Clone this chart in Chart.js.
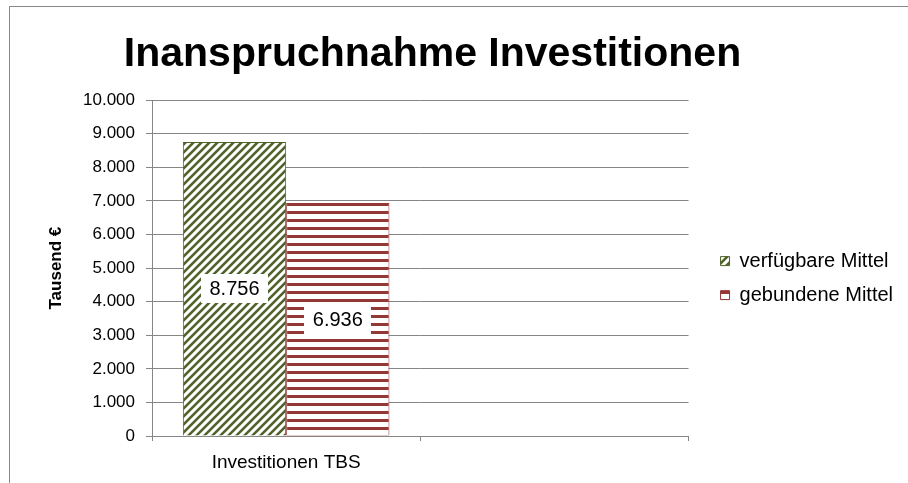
<!DOCTYPE html>
<html>
<head>
<meta charset="utf-8">
<script src="https://cdn.jsdelivr.net/npm/chart.js@4.4.0/dist/chart.umd.min.js"></script>
<style>
  html, body { margin: 0; padding: 0; background: #fff; overflow: hidden; }
  #wrap { position: relative; width: 908px; height: 483px; overflow: hidden; }
  #frame { position: absolute; left: 9px; top: 6px; width: 1000px; height: 1000px; border: 1px solid #8a8a8a; }
  #chart { position: absolute; left: 0; top: 0; }
</style>
</head>
<body>
<div id="wrap">
  <div id="frame"></div>
  <canvas id="chart" width="908" height="483"></canvas>
</div>
<script>
// data
const chartTitle = 'Inanspruchnahme Investitionen';
const axisTitle = 'Tausend €';
const categories = ['Investitionen TBS', ''];
const seriesNames = ['verfügbare Mittel', 'gebundene Mittel'];
const availableValues = [8756, null];
const boundValues = [6936, null];
const yTickValues = [0, 1000, 2000, 3000, 4000, 5000, 6000, 7000, 8000, 9000, 10000];

const FONT = '"Liberation Sans", Arial, sans-serif';
const green = '#4f6228';
const red = '#953735';
const gridGrey = '#868686';

// German thousands separator
function fmt(v) {
  return String(v).replace(/\B(?=(\d{3})+(?!\d))/g, '.');
}

// hatch fills like the excel patterns
function hatch(kind, color, shiftY) {
  const c = document.createElement('canvas');
  c.width = 8; c.height = 8;
  const g = c.getContext('2d');
  g.fillStyle = '#fff';
  g.fillRect(0, 0, 8, 8);
  if (kind === 'diag') {
    g.strokeStyle = color;
    g.lineWidth = 2.6;
    g.beginPath();
    g.moveTo(-2, 10); g.lineTo(10, -2);
    g.moveTo(-6, 6); g.lineTo(6, -6);
    g.moveTo(2, 14); g.lineTo(14, 2);
    g.stroke();
  } else {
    g.fillStyle = color;
    g.fillRect(0, 0, 8, 3);
  }
  const p = g.createPattern(c, 'repeat');
  if (shiftY && p.setTransform) p.setTransform(new DOMMatrix().translate(0, shiftY));
  return p;
}

// white boxes with the values in the middle of the bars
const valueBoxes = {
  id: 'valueBoxes',
  afterDatasetsDraw(chart) {
    const ctx = chart.ctx;
    ctx.save();
    ctx.font = '20px ' + FONT;
    ctx.textAlign = 'center';
    ctx.textBaseline = 'middle';
    chart.data.datasets.forEach((ds, i) => {
      chart.getDatasetMeta(i).data.forEach((bar, j) => {
        const v = ds.data[j];
        if (v == null) return;
        const cy = (bar.y + bar.base) / 2;
        const text = fmt(v);
        const w = ctx.measureText(text).width + 17;
        const h = 29;
        ctx.fillStyle = '#fff';
        ctx.fillRect(Math.round(bar.x - w / 2), Math.round(cy - h / 2), Math.round(w), h);
        ctx.fillStyle = '#000';
        ctx.fillText(text, bar.x, cy + 1);
      });
    });
    ctx.restore();
  }
};

// title a bit left of centre, legend a bit right/down like excel
const nudge = {
  id: 'nudge',
  afterLayout(chart) {
    const t = chart.titleBlock;
    t.left -= 20; t.right -= 20;
    const lg = chart.legend;
    lg.left += 18; lg.right += 18;
    lg.top += 10; lg.bottom += 10;
  }
};

const config = {
  type: 'bar',
  data: {
    labels: categories,
    datasets: [{
      label: seriesNames[0],
      data: availableValues,
      backgroundColor: hatch('diag', green, 0),
      borderColor: green,
      borderWidth: 1,
      categoryPercentage: 0.77,
      barPercentage: 1
    }, {
      label: seriesNames[1],
      data: boundValues,
      backgroundColor: hatch('horiz', red, 3),
      borderColor: red,
      borderWidth: 1,
      categoryPercentage: 0.77,
      barPercentage: 1
    }]
  },
  options: {
    responsive: false,
    animation: false,
    devicePixelRatio: 1,
    layout: { padding: { left: 20, right: 23, top: 0, bottom: 0 } },
    plugins: {
      title: {
        display: true,
        text: chartTitle,
        color: '#000',
        font: { family: FONT, size: 41, weight: 'bold' },
        padding: { top: 30, bottom: 21 }
      },
      legend: {
        position: 'right',
        fullSize: false,
        labels: {
          color: '#000',
          font: { family: FONT, size: 20 },
          boxWidth: 9,
          boxHeight: 9,
          padding: 14
        }
      },
      tooltip: { enabled: false }
    },
    scales: {
      x: {
        offset: true,
        grid: { offset: true, drawOnChartArea: false, color: gridGrey, tickLength: 5 },
        border: { color: gridGrey },
        ticks: { color: '#000', font: { family: FONT, size: 19 }, padding: 10, maxRotation: 0 },
        afterFit(s) { s.height = 47; }
      },
      y: {
        min: 0,
        max: 10000,
        afterBuildTicks(s) { s.ticks = yTickValues.map(v => ({ value: v })); },
        ticks: { color: '#000', font: { family: FONT, size: 17 }, padding: 11, callback: v => fmt(v) },
        grid: { color: gridGrey, tickLength: 6 },
        border: { color: gridGrey },
        title: {
          display: true,
          text: axisTitle,
          color: '#000',
          font: { family: FONT, size: 17, weight: 'bold' },
          padding: { top: 26, bottom: 0 }
        },
        afterFit(s) { s.width = 132; }
      }
    }
  },
  plugins: [valueBoxes, nudge]
};

const chart = new Chart(document.getElementById('chart'), config);
</script>
</body>
</html>
